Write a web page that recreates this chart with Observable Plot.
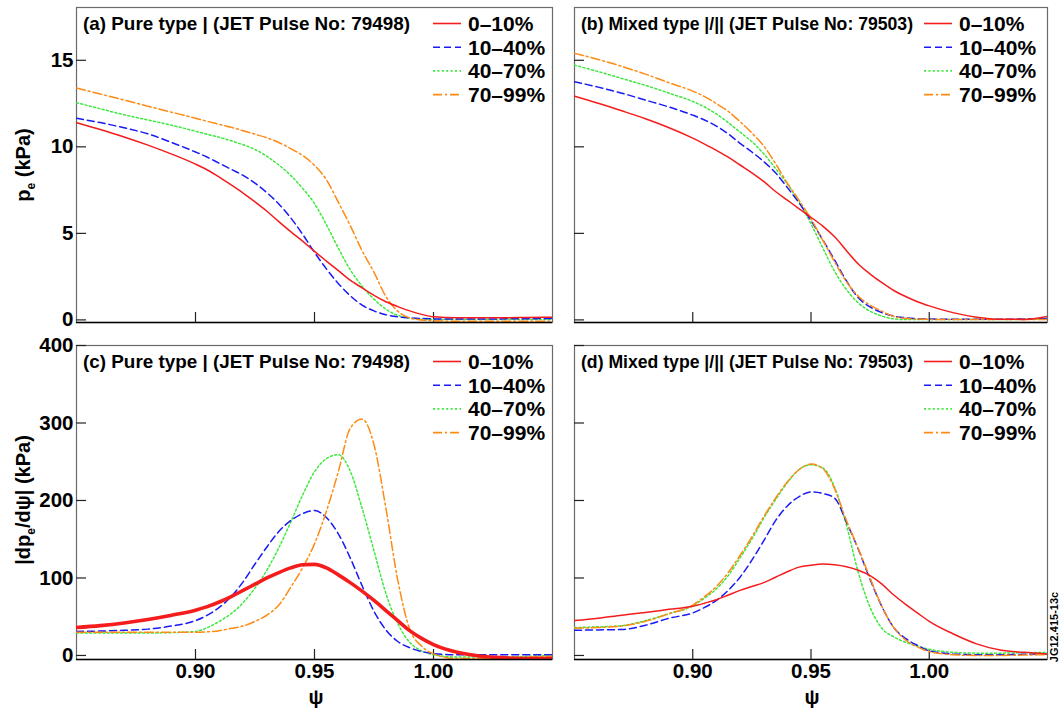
<!DOCTYPE html>
<html>
<head>
<meta charset="utf-8">
<script src="https://cdn.jsdelivr.net/npm/d3@7"></script>
<script src="https://cdn.jsdelivr.net/npm/@observablehq/plot@0.6"></script>
<style>
  body { margin: 0; background: #fff; }
  #fig { position: relative; width: 1060px; height: 711px; font-family: "Liberation Sans", Arial, sans-serif; }
</style>
</head>
<body>
<div id="fig"></div>
<script>
// Normalised poloidal flux grid shared by all profiles
const psi = [0.85, 0.86, 0.87, 0.88, 0.89, 0.90, 0.905, 0.91, 0.915, 0.92, 0.925, 0.93, 0.935, 0.94, 0.945,
             0.95, 0.955, 0.96, 0.965, 0.97, 0.975, 0.98, 0.985, 0.99, 0.995, 1.00, 1.01, 1.02, 1.03, 1.04, 1.05];

// ELM-cycle phase bins
const seriesNames = ["0–10%", "10–40%", "40–70%", "70–99%"];
const seriesColors = ["#f41c1c", "#1a1af5", "#3ee83e", "#ff8a14"];
const seriesDash = [null, "7,4", "2,2.4", "9,3,2,3"];

// (a) electron pressure, pure type I, pulse 79498 (kPa)
const peA_0_10  = [11.40, 11.00, 10.57, 10.10, 9.58, 9.00, 8.66, 8.25, 7.80, 7.33, 6.82, 6.28, 5.68, 5.10, 4.55, 3.96, 3.40, 2.85, 2.30, 1.85, 1.42, 1.05, 0.77, 0.52, 0.32, 0.18, 0.13, 0.13, 0.13, 0.14, 0.16];
const peA_10_40 = [11.65, 11.40, 11.10, 10.75, 10.25, 9.70, 9.40, 9.05, 8.70, 8.35, 7.90, 7.35, 6.70, 5.90, 4.95, 3.90, 2.95, 2.10, 1.40, 0.85, 0.52, 0.30, 0.18, 0.12, 0.08, 0.06, 0.05, 0.05, 0.06, 0.07, 0.08];
const peA_40_70 = [12.55, 12.20, 11.85, 11.55, 11.25, 10.90, 10.72, 10.55, 10.35, 10.12, 9.85, 9.45, 8.95, 8.35, 7.60, 6.72, 5.50, 4.15, 2.90, 1.95, 1.20, 0.62, 0.26, 0.10, 0.04, 0.02, 0.02, 0.02, 0.02, 0.02, 0.02];
const peA_70_99 = [13.40, 13.05, 12.70, 12.35, 12.00, 11.65, 11.47, 11.30, 11.13, 10.93, 10.73, 10.52, 10.25, 9.90, 9.50, 8.93, 8.10, 6.80, 5.45, 4.00, 2.75, 1.35, 0.50, 0.12, 0.00, -0.05, -0.08, -0.08, -0.08, -0.08, -0.08];

// (b) electron pressure, mixed type I/II, pulse 79503 (kPa)
const peB_0_10  = [12.93, 12.52, 12.08, 11.62, 11.10, 10.50, 10.16, 9.80, 9.40, 8.95, 8.50, 8.00, 7.42, 6.92, 6.42, 5.93, 5.42, 4.80, 4.00, 3.23, 2.65, 2.15, 1.70, 1.35, 1.05, 0.81, 0.42, 0.16, 0.04, 0.03, 0.20];
const peB_10_40 = [13.76, 13.45, 13.10, 12.70, 12.30, 11.83, 11.55, 11.20, 10.75, 10.20, 9.70, 9.15, 8.50, 7.65, 6.75, 5.74, 4.62, 3.45, 2.25, 1.28, 0.75, 0.42, 0.22, 0.12, 0.07, 0.05, 0.04, 0.04, 0.04, 0.05, 0.08];
const peB_40_70 = [14.72, 14.35, 13.95, 13.55, 13.10, 12.62, 12.30, 11.90, 11.40, 10.85, 10.30, 9.60, 8.75, 7.85, 6.80, 5.55, 4.15, 2.80, 1.75, 0.98, 0.50, 0.22, 0.06, 0.02, 0.02, 0.02, 0.02, 0.02, 0.02, 0.03, 0.05];
const peB_70_99 = [15.40, 15.05, 14.65, 14.20, 13.70, 13.22, 12.90, 12.50, 12.05, 11.45, 10.80, 10.05, 9.03, 7.90, 6.90, 5.84, 4.60, 3.35, 2.20, 1.37, 0.85, 0.50, 0.20, 0.09, 0.05, 0.03, 0.02, 0.02, 0.02, 0.02, 0.02];

// (c) pressure gradient |dpe/dpsi|, pure type I (kPa)
const dpA_0_10  = [36, 38.5, 42, 46.5, 52, 58.5, 63, 69, 76, 84, 92, 100, 107, 113, 117, 117.5, 113, 104, 94, 83, 71, 58, 45, 32, 22, 14, 4, -1, -3, -4, -4];
const dpA_10_40 = [31, 31.5, 32.5, 34, 38, 45, 52, 62, 76, 95, 118, 140, 160, 174, 183, 187, 178, 157, 126, 90, 57, 33, 18, 10, 5, 2.5, 1, 1, 1, 1, 1];
const dpA_40_70 = [29, 29, 29, 29, 29.5, 31, 36, 44, 54, 68, 87, 110, 139, 172, 207, 237, 254, 259, 238, 190, 135, 80, 41, 17, 6, 1, -2, -2, -2, -1, 0];
const dpA_70_99 = [30, 30, 30, 30, 30, 30, 30.5, 32, 35, 38, 44, 52, 65, 88, 113, 144, 186, 237, 293, 305, 272, 190, 97, 34, 12, 2, -4, -4, -3, -2, -1];

// (d) pressure gradient |dpe/dpsi|, mixed type I/II (kPa)
const dpB_0_10  = [45, 48, 52, 55.5, 59.5, 63.5, 67.5, 72, 78, 84, 89, 94, 101, 108, 114, 116.5, 118, 117, 114.5, 110, 103, 92, 78, 66, 55, 44, 28, 15, 7, 4, 2];
const dpB_10_40 = [32.5, 33, 33.5, 39, 48, 55, 62, 71, 84, 101, 123, 148, 174, 193, 205, 211, 209, 203, 172, 137, 98, 63, 36, 22, 13, 6, 2, 1, 1, 1.5, 2];
const dpB_40_70 = [36, 37, 38.5, 45, 54, 64, 74, 86, 103, 126, 150, 177, 201, 223, 240, 246, 242, 217, 168, 107, 62, 35, 24, 17, 12, 8, 4, 3, 3, 3.5, 4];
const dpB_70_99 = [35, 36, 38, 44, 54, 65, 76, 89, 107, 129, 153, 179, 203, 224, 240, 247, 241, 215, 174, 138, 100, 63, 36, 20, 11, 5, 1, 0, 0, 0.5, 1];

// Axis ticks and panel titles
const xTicks = [0.90, 0.95, 1.00];
const peTicks = [0, 5, 10, 15];
const dpTicks = [0, 100, 200, 300, 400];
const panelTitles = [
  "(a) Pure type | (JET Pulse No: 79498)",
  "(b) Mixed type |/|| (JET Pulse No: 79503)",
  "(c) Pure type | (JET Pulse No: 79498)",
  "(d) Mixed type |/|| (JET Pulse No: 79503)"
];

const FONT = "'Liberation Sans', Arial, Helvetica, sans-serif";
const fig = document.getElementById("fig");

// Panel layout: svg box and frame margins
const panels = [
  {series: [peA_0_10, peA_10_40, peA_40_70, peA_70_99], yDomain: [-0.15, 18.05], yTicks: peTicks,
   left: 0, top: 0, width: 560, height: 330, mL: 76, mR: 8, mT: 7, mB: 8, yLabels: true, xLabels: false, thick: false},
  {series: [peB_0_10, peB_10_40, peB_40_70, peB_70_99], yDomain: [-0.15, 18.05], yTicks: peTicks,
   left: 560, top: 0, width: 500, height: 330, mL: 14, mR: 13, mT: 7, mB: 8, yLabels: false, xLabels: false, thick: false},
  {series: [dpA_0_10, dpA_10_40, dpA_40_70, dpA_70_99], yDomain: [-5.2, 400], yTicks: dpTicks,
   left: 0, top: 330, width: 560, height: 381, mL: 76, mR: 8, mT: 15, mB: 52, yLabels: true, xLabels: true, thick: true},
  {series: [dpB_0_10, dpB_10_40, dpB_40_70, dpB_70_99], yDomain: [-5.2, 400], yTicks: dpTicks,
   left: 560, top: 330, width: 500, height: 381, mL: 14, mR: 13, mT: 15, mB: 52, yLabels: false, xLabels: true, thick: false}
];

const drawOrder = [2, 1, 3, 0];

panels.forEach((p) => {
  const fw = p.width - p.mL - p.mR;
  const fh = p.height - p.mT - p.mB;
  const marks = [];
  marks.push(Plot.frame({stroke: "#6a6a6a", strokeWidth: 1.2}));
  // inward tick marks
  marks.push(Plot.tickY(p.yTicks, {y: (d) => d, insetRight: fw - 10, stroke: "#222", strokeWidth: 1.2}));
  marks.push(Plot.tickX(xTicks, {x: (d) => d, insetTop: fh - 10, stroke: "#222", strokeWidth: 1.2}));
  for (const k of drawOrder) {
    const data = p.series[k].map((v, i) => ({psi: psi[i], v}));
    marks.push(Plot.line(data, {
      x: "psi", y: "v",
      stroke: seriesColors[k],
      strokeWidth: (k === 0 && p.thick) ? 3.6 : 1.5,
      strokeDasharray: seriesDash[k],
      curve: "monotone-x",
      clip: true
    }));
  }
  marks.push(Plot.ruleY([p.yDomain[0]], {stroke: "#000", strokeWidth: 1.4}));
  if (p.yLabels) {
    marks.push(Plot.axisY(p.yTicks, {tickSize: 0, tickPadding: 3, fontSize: 20.5, fontWeight: "bold", label: null}));
  }
  if (p.xLabels) {
    marks.push(Plot.axisX(xTicks, {tickSize: 0, tickPadding: 4, fontSize: 20.5, fontWeight: "bold",
      tickFormat: d3.format(".2f"), label: null}));
  }
  const svg = Plot.plot({
    width: p.width, height: p.height,
    marginLeft: p.mL, marginRight: p.mR, marginTop: p.mT, marginBottom: p.mB,
    x: {domain: [0.85, 1.05], axis: null},
    y: {domain: p.yDomain, axis: null},
    style: {fontFamily: FONT, fontSize: "20.5px", color: "#000", background: "transparent", overflow: "visible"},
    marks
  });
  svg.querySelectorAll('g[aria-label$="tick label"]').forEach((g) => {
    g.setAttribute("font-size", "20.5");
    g.style.fontSize = "20.5px";
  });
  svg.style.position = "absolute";
  svg.style.left = p.left + "px";
  svg.style.top = p.top + "px";
  fig.appendChild(svg);
});

// Titles, legends and axis names drawn over the panels
const frames = [
  {l: 76, t: 7, legendX: 433, titleW: 327},
  {l: 574, t: 7, legendX: 924, titleW: 332},
  {l: 76, t: 345, legendX: 433, titleW: 327},
  {l: 574, t: 345, legendX: 924, titleW: 332}
];

const overlay = d3.select(fig).append("svg")
  .attr("width", 1060).attr("height", 711)
  .style("position", "absolute").style("left", 0).style("top", 0)
  .style("pointer-events", "none")
  .style("font-family", FONT).style("font-weight", "bold");

frames.forEach((f, i) => {
  overlay.append("text")
    .attr("x", f.l + 7).attr("y", f.t + 16.5)
    .attr("dominant-baseline", "central")
    .attr("font-size", 19)
    .attr("textLength", f.titleW)
    .attr("lengthAdjust", "spacingAndGlyphs")
    .text(panelTitles[i]);
  seriesNames.forEach((name, k) => {
    const cy = f.t + 16.5 + 23.7 * k;
    overlay.append("line")
      .attr("x1", f.legendX).attr("x2", f.legendX + 28)
      .attr("y1", cy).attr("y2", cy)
      .attr("stroke", seriesColors[k]).attr("stroke-width", 1.6)
      .attr("stroke-dasharray", seriesDash[k]);
    overlay.append("text")
      .attr("x", f.legendX + 35).attr("y", cy)
      .attr("dominant-baseline", "central")
      .attr("font-size", 21)
      .text(name);
  });
});

// y-axis names
const yName1 = overlay.append("text")
  .attr("transform", "translate(30,165) rotate(-90)")
  .attr("text-anchor", "middle").attr("font-size", 20);
yName1.append("tspan").text("p");
yName1.append("tspan").attr("font-size", 12).attr("dy", 5).text("e");
yName1.append("tspan").attr("dy", -5).text(" (kPa)");

const yName2 = overlay.append("text")
  .attr("transform", "translate(30,500) rotate(-90)")
  .attr("text-anchor", "middle").attr("font-size", 20);
yName2.append("tspan").text("|dp");
yName2.append("tspan").attr("font-size", 12).attr("dy", 5).text("e");
yName2.append("tspan").attr("dy", -5).text("/dψ| (kPa)");

// x-axis names
[316, 812].forEach((x) => {
  overlay.append("text")
    .attr("x", x).attr("y", 704)
    .attr("text-anchor", "middle").attr("font-size", 20)
    .text("ψ");
});

// figure reference code
overlay.append("text")
  .attr("transform", "translate(1058,627) rotate(-90)")
  .attr("text-anchor", "middle").attr("font-size", 11)
  .text("JG12.415-13c");
</script>
</body>
</html>
